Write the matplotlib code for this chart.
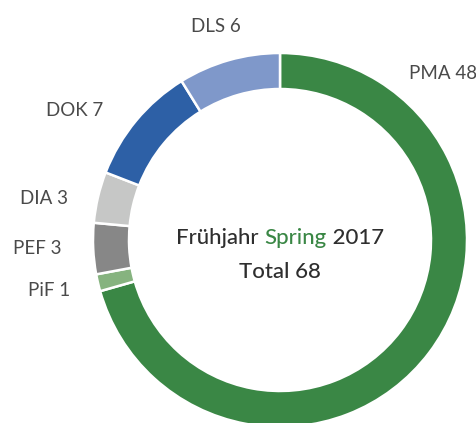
import matplotlib
matplotlib.use("Agg")
import matplotlib.pyplot as plt

# donut data, clockwise from 12 o'clock
labels = ["PMA", "PiF", "PEF", "DIA", "DOK", "DLS"]
counts = [48, 1, 3, 3, 7, 6]
colors = ["#3a8745", "#86b37f", "#878787", "#c6c7c6", "#2d60a6", "#7f98ca"]

# label anchors in pixel coords (x, y from top) and alignment
label_pos = [(409, 73, "left"), (70, 290, "right"), (62, 248, "right"),
             (68, 198, "right"), (103, 110, "right"), (216, 26, "center")]

W, H = 477, 423
cx, cy = 280, 240
R, ring = 187, 36

plt.rcParams["font.family"] = ["Lato", "DejaVu Sans"]
txt = "#4a4a4a"

fig = plt.figure(figsize=(W / 100, H / 100), dpi=100)
ax = fig.add_axes([0, 0, 1, 1])

ax.pie(counts, colors=colors, startangle=90, counterclock=False,
       center=(cx, H - cy), radius=R,
       wedgeprops=dict(width=ring, edgecolor="white", linewidth=1.8))
ax.set_xlim(0, W)
ax.set_ylim(0, H)
ax.set_aspect("equal")
ax.axis("off")

for lab, n, (x, y, ha) in zip(labels, counts, label_pos):
    ax.text(x, H - y, f"{lab} {n}", ha=ha, va="center", fontsize=13.5,
            color=txt)

# centre title, "Spring" in green
y1 = H - 238
t1 = ax.text(0, y1, "Frühjahr ", ha="left", va="center", fontsize=16,
             color="#2e2e2e", fontweight="medium")
t2 = ax.annotate("Spring", xy=(1, 0), xycoords=t1, ha="left", va="bottom",
                 fontsize=16, color=colors[0], fontweight="medium")
t3 = ax.annotate(" 2017", xy=(1, 0), xycoords=t2, ha="left", va="bottom",
                 fontsize=16, color="#2e2e2e", fontweight="medium")
fig.canvas.draw()
r = fig.canvas.get_renderer()
left = t1.get_window_extent(r).x0
right = t3.get_window_extent(r).x1
t1.set_x(cx - (right - left) / 2)

ax.text(cx, H - 272, f"Total {sum(counts)}", ha="center", va="center",
        fontsize=16, color="#2e2e2e", fontweight="medium")

fig.savefig("out.png", dpi=100)
